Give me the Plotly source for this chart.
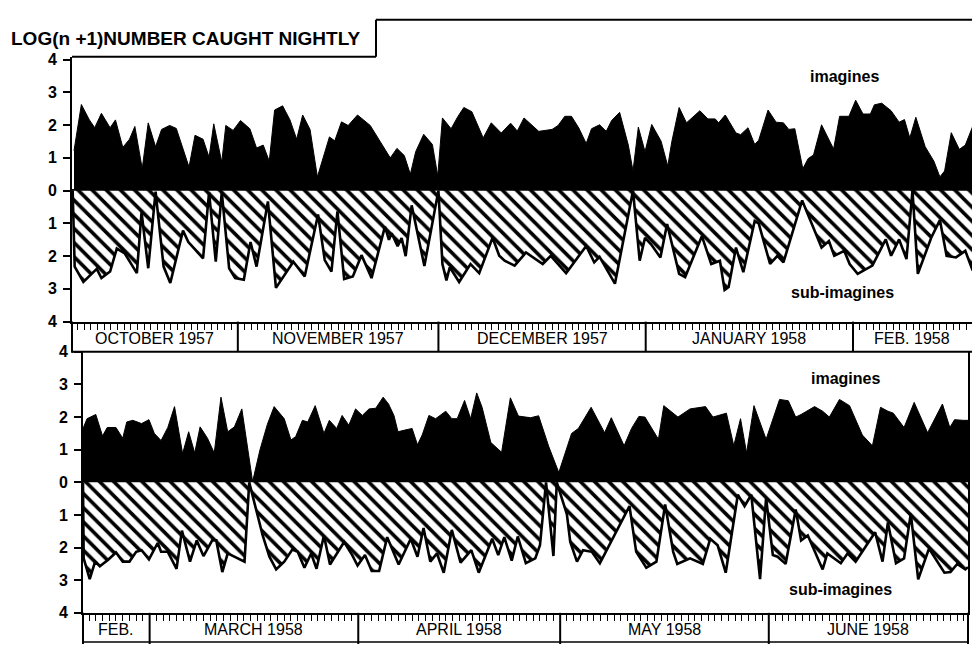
import plotly.graph_objects as go

# ---------------- data (x = days since 1 Oct 1957; y = log(n+1)) ----------------
top_imag_day = [6.5, 7.6, 8.8, 9.6, 10.6, 11.9, 12.7, 13.8, 14.8, 15.6, 16.7, 17.6, 18.7, 19.6, 20.8, 21.8,
                23.7, 24.6, 25.8, 26.7, 27.4, 28.6, 29.2, 30.3, 31.4, 32.8, 33.8, 34.8, 35.7, 36.5, 37.7, 38.8,
                39.8, 40.7, 41.8, 42.9, 44.7, 45.5, 46.5, 47.5, 48.9, 50.8, 53.8, 54.8, 55.9, 56.8, 57.6, 58.8,
                60.1, 60.9, 61.6, 62.9, 63.9, 64.8, 66.0, 67.7, 68.9, 70.4, 71.8, 72.8, 73.8, 76.0, 78.0, 78.9,
                79.9, 80.9, 82.0, 83.1, 83.9, 85.1, 86.1, 86.9, 88.1, 89.4, 90.1, 90.9, 91.9, 92.9, 94.3, 95.3,
                95.9, 97.0, 98.1, 100.1, 101.3, 102.4, 102.9, 103.9, 105.5, 106.2, 107.3, 108.3, 108.9, 110.3,
                111.5, 112.6, 113.4, 114.3, 115.5, 116.3, 117.1, 118.3, 120.1, 121.0, 122.4, 123.4, 124.5, 125.6,
                126.2, 127.3, 128.7, 129.9, 130.7, 131.5, 132.4, 133.8, 135.1, 136.0, 136.7, 137.7, 138.9, 139.8,
                140.9]
top_imag_val = [1.22, 2.63, 2.16, 1.92, 2.36, 1.92, 2.16, 1.32, 1.57, 1.96, 0.67, 2.07, 1.34, 1.87, 1.99, 1.90,
                0.72, 1.69, 1.57, 1.02, 2.04, 0.87, 1.99, 1.84, 2.14, 1.89, 1.30, 1.39, 0.90, 2.46, 2.59, 2.16,
                1.57, 2.31, 1.87, 0.42, 1.64, 1.52, 2.10, 1.99, 2.31, 1.99, 1.00, 1.29, 1.07, 0.50, 1.19, 1.72,
                1.41, 0.45, 2.22, 1.89, 2.26, 2.54, 2.41, 1.61, 2.07, 1.76, 2.06, 1.82, 2.22, 1.81, 1.87, 1.99,
                2.27, 2.27, 1.91, 1.44, 1.89, 2.01, 1.81, 2.14, 2.39, 1.39, 0.60, 1.94, 1.19, 2.02, 1.51, 0.75,
                1.49, 2.54, 2.07, 2.44, 2.19, 2.19, 2.07, 2.31, 1.76, 1.71, 1.92, 1.41, 1.54, 2.46,
                2.09, 2.07, 1.87, 1.89, 0.67, 0.98, 1.09, 2.01, 1.27, 2.27, 2.27, 2.76, 2.34, 2.34,
                2.62, 2.67, 2.44, 2.09, 2.17, 1.61, 2.24, 1.34, 0.90, 0.42, 0.60, 1.77, 1.26, 1.39,
                1.96]

top_sub_day = [6.3, 6.6, 7.9, 9.9, 10.6, 11.9, 12.9, 14.1, 15.9, 16.6, 17.6, 18.7, 19.9, 20.9, 22.8, 23.6,
               25.8, 26.7, 27.7, 28.6, 29.7, 30.6, 31.9, 32.9, 33.8, 35.5, 36.7, 39.3, 41.0, 43.0, 44.0, 45.0,
               45.9, 46.9, 48.2, 49.5, 51.0, 53.0, 53.6, 54.0, 54.9, 55.5, 56.1, 57.0, 58.9, 61.0, 61.6, 62.2,
               62.7, 64.1, 65.8, 67.1, 69.1, 70.1, 70.9, 72.4, 74.1, 76.6, 77.8, 80.1, 83.1, 84.3, 85.1, 87.4,
               90.1, 91.1, 91.9, 92.8, 94.2, 95.2, 97.0, 97.9, 100.4, 101.8, 103.1, 103.8, 104.4, 105.5, 106.6,
               108.3, 108.9, 110.6, 111.7, 112.6, 115.4, 116.3, 118.3, 119.4, 120.2, 121.7, 122.5, 123.7, 125.9,
               127.9, 128.7, 129.9, 131.0, 131.9, 132.7, 134.7, 136.0, 137.0, 138.4, 139.8, 140.9]
top_sub_val = [0, 2.32, 2.79, 2.39, 2.67, 2.47, 1.77, 1.92, 2.52, 0.66, 2.37, 0.03, 2.32, 2.82, 1.22, 1.57,
               2.07, 0.05, 2.17, 0.05, 2.37, 2.67, 2.72, 1.57, 2.32, 0.33, 2.97, 2.17, 2.62, 0.73, 2.12, 2.47,
               0.63, 2.70, 2.62, 1.97, 2.67, 1.10, 1.50, 1.30, 1.70, 1.45, 2.00, 0.45, 2.30, 0, 2.24, 2.74,
               2.34, 2.79, 2.24, 2.52, 1.44, 1.99, 2.14, 2.29, 1.89, 2.24, 1.99, 2.52, 1.69, 2.19, 2.02, 2.84,
               0, 2.14, 1.44, 1.64, 2.04, 1.02, 2.54, 2.64, 1.39, 2.24, 2.14, 3.03, 2.94, 1.74, 2.49,
               0.93, 1.00, 2.24, 1.99, 2.19, 0.30, 0.75, 1.74, 1.54, 1.99, 1.84, 2.24, 2.54, 2.29,
               1.49, 1.99, 1.49, 2.09, 0, 2.54, 1.44, 0.90, 1.99, 2.04, 1.84, 2.44]

bot_imag_day = [141.1, 141.7, 143.0, 144.0, 144.7, 146.0, 147.0, 147.6, 148.5, 149.8, 150.9, 151.7, 152.7,
                153.7, 154.7, 155.9, 156.8, 157.7, 158.5, 159.6, 160.6, 161.6, 162.6, 163.6, 164.7, 166.3,
                167.4, 168.5, 169.5, 171.0, 172.0, 172.7, 173.7, 174.5, 175.6, 176.9, 177.7, 178.8, 179.6,
                180.6, 181.6, 182.6, 183.6, 184.6, 185.7, 186.5, 187.3, 187.9, 188.9, 190.0, 190.8, 191.5,
                192.5, 193.5, 195.0, 195.9, 196.7, 197.8, 198.7, 199.6, 200.4, 201.7, 203.3, 204.6, 205.8,
                207.6, 208.8, 210.3, 211.8, 213.7, 214.7, 216.6, 218.6, 219.6, 221.5, 222.6, 223.7, 224.6,
                226.6, 227.4, 229.5, 231.3, 233.6, 234.7, 236.7, 237.8, 238.8, 239.7, 240.8, 242.6, 244.6,
                245.9, 247.0, 247.8, 249.8, 251.0, 252.0, 253.5, 255.0, 256.9, 258.4, 259.6, 260.7, 261.5,
                263.1, 264.6, 266.6, 268.8, 269.9, 270.6, 271.9, 272.6]
bot_imag_val = [1.65, 1.95, 2.08, 1.42, 1.68, 1.68, 1.35, 1.85, 1.90, 1.80, 1.92, 1.50, 1.28,
                1.68, 2.32, 0.88, 1.55, 0.90, 1.70, 1.35, 0.90, 2.61, 1.55, 1.70, 2.25, 0.02,
                1.00, 1.78, 2.32, 1.95, 1.30, 1.40, 1.90, 1.85, 2.35, 1.50, 1.90, 1.65, 2.05,
                1.75, 2.25, 2.05, 2.25, 2.27, 2.61, 2.40, 2.05, 1.55, 1.60, 1.65, 1.15, 1.45,
                2.05, 1.95, 2.18, 1.95, 1.95, 2.51, 1.95, 2.74, 2.30, 1.22, 0.92, 2.59, 2.03,
                1.98, 2.04, 1.10, 0.30, 1.50, 1.65, 2.30, 1.52, 1.98, 1.12, 1.65, 2.02, 2.00,
                1.32, 2.35, 2.00, 2.25, 2.32, 2.00, 2.12, 1.12, 1.95, 0.90, 2.35, 1.32, 2.54,
                2.50, 2.00, 2.08, 2.32, 2.18, 2.00, 2.54, 2.35, 1.45, 1.12, 2.30, 2.18, 2.12,
                1.68, 2.45, 1.52, 2.40, 1.68, 1.92, 1.90, 1.90]

bot_sub_day = [141.1, 141.2, 142.1, 142.9, 143.6, 144.8, 146.0, 147.0, 148.0, 149.0, 149.8, 150.9, 152.2,
               152.7, 153.7, 155.0, 155.8, 157.0, 158.0, 159.0, 160.3, 160.9, 161.8, 162.6, 165.1, 165.8,
               167.0, 167.8, 168.8, 169.8, 171.0, 172.2, 173.0, 174.0, 175.0, 175.8, 176.9, 177.8, 179.9,
               181.1, 181.9, 183.0, 184.0, 185.1, 186.3, 188.0, 189.8, 190.8, 191.7, 192.7, 193.7, 194.7,
               195.9, 197.2, 198.8, 199.9, 201.9, 202.8, 203.7, 204.8, 205.7, 206.9, 208.3, 209.0, 209.9,
               211.0, 211.5, 213.0, 213.5, 214.5, 215.4, 216.7, 217.9, 219.3, 222.3, 223.3, 224.8, 226.3,
               227.6, 228.8, 229.4, 231.3, 233.2, 234.3, 235.4, 236.6, 238.4, 239.4, 240.4, 241.7, 242.6,
               243.6, 244.3, 245.5, 247.0, 247.8, 248.8, 251.0, 251.7, 253.7, 254.7, 255.9, 258.8, 259.9,
               260.7, 261.9, 263.1, 264.1, 265.2, 266.8, 269.1, 270.0, 271.0, 272.2, 272.6]
bot_sub_val = [0, 2.33, 2.97, 2.43, 2.57, 2.38, 2.15, 2.43, 2.43, 2.13, 2.08, 2.36, 1.86,
               2.13, 2.13, 2.65, 1.48, 2.43, 1.78, 2.26, 1.78, 1.78, 2.75, 2.18, 2.43, 0,
               0.98, 1.63, 2.28, 2.67, 2.43, 2.06, 2.13, 2.62, 2.18, 2.65, 1.63, 2.52, 1.83,
               2.23, 2.55, 2.23, 2.72, 2.72, 1.68, 2.52, 1.73, 2.28, 1.40, 2.43, 2.18, 2.77,
               1.46, 2.46, 2.08, 2.77, 1.73, 2.23, 1.68, 2.40, 1.66, 2.48, 2.33, 1.93, 0,
               2.26, 0, 0.98, 1.83, 2.43, 2.08, 2.13, 2.48, 1.93, 0.73, 2.13, 2.62, 2.43,
               0.68, 2.13, 2.50, 2.33, 2.50, 1.73, 1.93, 2.77, 0.38, 0.73, 0.38, 2.97, 0.48,
               2.23, 2.28, 2.50, 0.83, 1.78, 1.63, 2.67, 2.18, 2.48, 2.18, 2.43, 1.53, 2.43,
               1.23, 2.48, 2.33, 0.96, 2.97, 2.03, 2.77, 2.75, 2.50, 2.67, 2.60]

# month segments (start day, end day, label)
top_month_starts = [6.2, 31, 61, 92, 123]
top_month_ends = [31, 61, 92, 123, 140.8]
top_month_labels = ["OCTOBER 1957", "NOVEMBER 1957", "DECEMBER 1957", "JANUARY 1958", "FEB. 1958"]
bot_month_starts = [141.1, 151, 182, 212, 243]
bot_month_ends = [151, 182, 212, 243, 272.6]
bot_month_labels = ["FEB.", "MARCH 1958", "APRIL 1958", "MAY 1958", "JUNE 1958"]

y_tickvals = [-4, -3, -2, -1, 0, 1, 2, 3, 4]
y_ticktext = ["4", "3", "2", "1", "0", "1", "2", "3", "4"]

TITLE = "LOG(n +1)NUMBER CAUGHT NIGHTLY"

# ---------------- figure ----------------
W, H = 972, 653
def pxx(p):
    return p / W
def pxy(p):
    return 1 - p / H

FONT_B = "Liberation Sans"
fig = go.Figure()

pattern = dict(shape="\\", fgcolor="black", fgopacity=1, bgcolor="white", size=10, solidity=0.36)

for xa, ya, d_i, v_i, d_s, v_s in [
    ("x", "y", top_imag_day, top_imag_val, top_sub_day, top_sub_val),
    ("x2", "y2", bot_imag_day, bot_imag_val, bot_sub_day, bot_sub_val),
]:
    fig.add_trace(go.Scatter(x=d_i, y=v_i, xaxis=xa, yaxis=ya, mode="lines",
                             line=dict(color="black", width=1), fill="tozeroy",
                             fillcolor="black", hoverinfo="skip"))
    fig.add_trace(go.Scatter(x=d_s, y=[-v for v in v_s], xaxis=xa, yaxis=ya, mode="lines",
                             line=dict(color="black", width=2.6), fill="tozeroy",
                             fillpattern=pattern, fillcolor="white", hoverinfo="skip"))

xcommon = dict(showline=True, linecolor="black", linewidth=2, ticks="outside", tickmode="linear",
               tick0=0, dtick=1, ticklen=6, tickwidth=1.4, tickcolor="black",
               showticklabels=False, showgrid=False, zeroline=False, fixedrange=True)
ycommon = dict(showline=True, linecolor="black", linewidth=2, ticks="outside", tickvals=y_tickvals,
               ticktext=y_ticktext, ticklen=7, tickwidth=1.5, tickcolor="black",
               tickfont=dict(family=FONT_B, size=16, color="black", weight="bold"),
               ticklabelstandoff=3,
               showgrid=False, zeroline=True, zerolinecolor="black", zerolinewidth=2.5,
               fixedrange=True, layer="above traces")

fig.update_layout(
    width=W, height=H, margin=dict(l=0, r=0, t=0, b=0),
    paper_bgcolor="white", plot_bgcolor="white", showlegend=False,
    xaxis=dict(domain=[pxx(72), 1.0], range=[6.2, 140.8], anchor="y", **xcommon),
    yaxis=dict(domain=[pxy(322), pxy(50)], range=[-4, 4.09], anchor="x", **ycommon),
    xaxis2=dict(domain=[pxx(83), pxx(968)], range=[141.1, 272.6], anchor="y2", **xcommon),
    yaxis2=dict(domain=[pxy(621), pxy(353)], range=[-4, 4], anchor="x2", mirror=True, **ycommon),
)

shapes = []
LW = 2
def pline(x0, y0, x1, y1, w=LW):
    shapes.append(dict(type="line", xref="paper", yref="paper", x0=pxx(x0), y0=pxy(y0),
                       x1=pxx(x1), y1=pxy(y1), line=dict(color="black", width=w)))

# title frame
pline(72, 50, 376, 50)
pline(376, 50, 376, 12)
pline(376, 12, 972, 12)
# top month box
pline(72, 322, 72, 354)
pline(72, 353, 972, 353)
# bottom month box
pline(83, 621, 83, 653)
pline(968, 621, 968, 653)
pline(83, 651, 968, 651, 1.5)

for d in top_month_starts[1:]:
    shapes.append(dict(type="line", xref="x", yref="paper", x0=d, x1=d, y0=pxy(353), y1=pxy(322),
                       line=dict(color="black", width=LW)))
for d in bot_month_starts[1:]:
    shapes.append(dict(type="line", xref="x2", yref="paper", x0=d, x1=d, y0=pxy(653), y1=pxy(621),
                       line=dict(color="black", width=LW)))
fig.update_layout(shapes=shapes)

ann = []
ann.append(dict(text=TITLE, xref="paper", yref="paper", x=pxx(9), y=pxy(31), xanchor="left",
                yanchor="middle", showarrow=False,
                font=dict(family=FONT_B, size=19, color="black", weight="bold")))
MONTH_FONT = dict(family="Liberation Sans", size=16, color="black")
for s, e, lab in zip(top_month_starts, top_month_ends, top_month_labels):
    ann.append(dict(text=lab, xref="x", yref="paper", x=(s + e) / 2, y=pxy(339), showarrow=False,
                    xanchor="center", yanchor="middle", font=MONTH_FONT))
for s, e, lab in zip(bot_month_starts, bot_month_ends, bot_month_labels):
    ann.append(dict(text=lab, xref="x2", yref="paper", x=(s + e) / 2, y=pxy(638), showarrow=False,
                    xanchor="center", yanchor="middle", font=MONTH_FONT))
LBL_FONT = dict(family=FONT_B, size=16, color="black", weight="bold")
ann.append(dict(text="imagines", xref="x", yref="y", x=121.8, y=3.5, showarrow=False, font=LBL_FONT))
ann.append(dict(text="sub-imagines", xref="x", yref="y", x=121.5, y=-3.11, showarrow=False, font=LBL_FONT))
ann.append(dict(text="imagines", xref="x2", yref="y2", x=254.4, y=3.19, showarrow=False, font=LBL_FONT))
ann.append(dict(text="sub-imagines", xref="x2", yref="y2", x=253.7, y=-3.28, showarrow=False, font=LBL_FONT))
fig.update_layout(annotations=ann)

fig.write_html("out.html")
